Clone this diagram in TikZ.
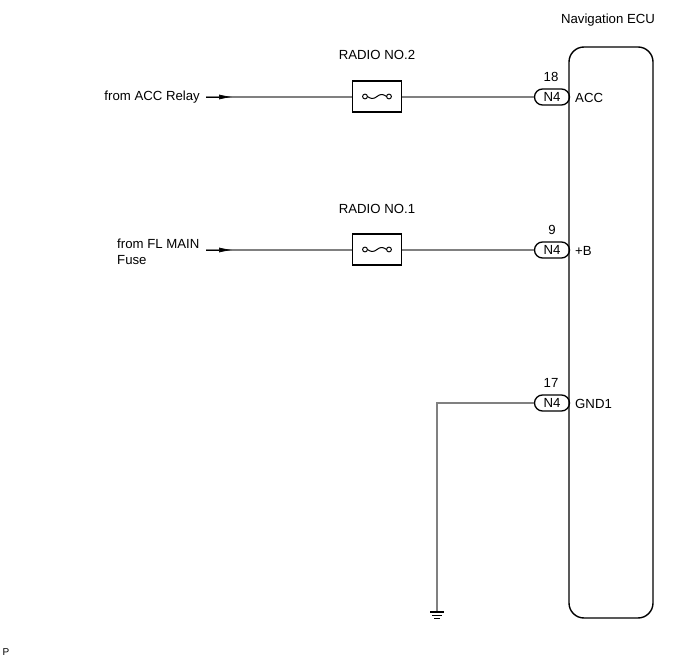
\documentclass[tikz,border=0pt]{standalone}
\usepackage{fontspec}
\setmainfont{Liberation Sans}
\usetikzlibrary{arrows.meta,shapes.misc}
\begin{document}
\begin{tikzpicture}[x=1pt,y=-1pt,
  lbl/.style={font=\fontsize{13.2}{15}\selectfont, inner sep=0pt},
  wire/.style={draw=black!50, line width=1.3pt},
  fusebox/.style={draw, line width=1.3pt, minimum width=49pt, minimum height=31pt, inner sep=0pt},
  conn/.style={draw, line width=1.3pt, rounded rectangle, minimum width=35pt, minimum height=16pt, inner sep=0pt, font=\fontsize{13.2}{15}\selectfont},
  ecubox/.style={draw, line width=1.4pt, rounded corners=15pt},
  inarrow/.style={draw=black, line width=0.6pt, -{Latex[length=13pt,width=5pt]}}
]
\useasboundingbox (0,0) rectangle (691,660);

% ECU
\draw[ecubox] (569,47) rectangle (653,618);
\node[lbl] (ecutitle) at (608,20) {Navigation ECU};

% connectors
\node[conn] (c18) at (552,97) {N4};
\node[conn] (c9) at (552,250) {N4};
\node[conn] (c17) at (552,403) {N4};
\node[lbl] (p18) at (551,77) {18};
\node[lbl] (p9) at (552,230) {9};
\node[lbl] (p17) at (551,383) {17};
\node[lbl, anchor=west] (tacc) at (575,98) {ACC};
\node[lbl, anchor=west] (tb) at (575,251) {+B};
\node[lbl, anchor=west] (tgnd) at (575,404) {GND1};

% fuses
\node[fusebox] (f2) at (377,96.5) {};
\node[fusebox] (f1) at (377,249.5) {};
\node[lbl] (rf2) at (377,55) {RADIO NO.2};
\node[lbl] (rf1) at (377,209) {RADIO NO.1};
\foreach \f in {f2,f1}{
  \draw[line width=1pt] ([xshift=-12pt]\f.center) circle (2.4pt);
  \draw[line width=1pt] ([xshift=12pt]\f.center) circle (2.4pt);
  \draw[line width=1pt] ([xshift=-9.6pt]\f.center) .. controls ([xshift=-3pt,yshift=-4.5pt]\f.center) and ([xshift=-1pt,yshift=0pt]\f.center) .. (\f.center)
     .. controls ([xshift=1pt,yshift=0pt]\f.center) and ([xshift=3pt,yshift=4.5pt]\f.center) .. ([xshift=9.6pt]\f.center);
}

% inputs
\node[lbl, anchor=east] (facc) at (200,97) {from ACC Relay};
\node[lbl, anchor=west, align=left, font=\fontsize{13.2}{15.5}\selectfont] (ffl) at (117,252) {from FL MAIN\\Fuse};
\coordinate (s2) at (206,97);
\coordinate (a2) at (232,97);
\coordinate (s1) at (206,250);
\coordinate (a1) at (232,250);

\draw[wire] (s2) -- (f2.west |- s2);
\draw[wire] (f2.east |- s2) -- (c18.west);
\draw[wire] (s1) -- (f1.west |- s1);
\draw[wire] (f1.east |- s1) -- (c9.west);
\draw[inarrow] (s2) -- (a2);
\draw[inarrow] (s1) -- (a1);

% ground
\coordinate (gc) at (437,403);
\coordinate (gnd) at (437,612);
\draw[wire] (c17.west) -- (gc) -- (gnd);
\draw[line width=1.2pt] ([xshift=-7pt]gnd) -- ([xshift=7pt]gnd);
\draw[line width=1.2pt] ([xshift=-5pt,yshift=-3.2pt]gnd) -- ([xshift=5pt,yshift=-3.2pt]gnd);
\draw[line width=1.2pt] ([xshift=-3pt,yshift=-6.4pt]gnd) -- ([xshift=3pt,yshift=-6.4pt]gnd);

\node[lbl, font=\fontsize{10}{11}\selectfont, anchor=west] (pmark) at (2.5,652.5) {P};
\end{tikzpicture}
\end{document}
